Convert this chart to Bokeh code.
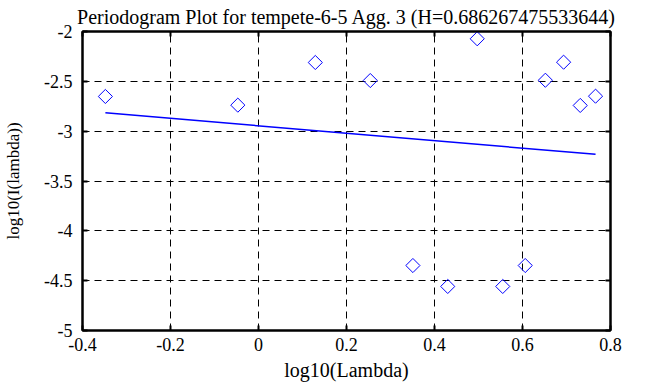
import numpy as np
from bokeh.plotting import figure
from bokeh.models import LinearAxis, FixedTicker, CustomJSTickFormatter, Range1d
from bokeh.embed import file_html
from bokeh.resources import INLINE

# data
log_lambda = [-0.3480, -0.0470, 0.1291, 0.2540, 0.3509, 0.4301, 0.4971,
              0.5551, 0.6062, 0.6520, 0.6934, 0.7312, 0.7660]
log_I = [-2.652, -2.739, -2.311, -2.492, -4.348, -4.558, -2.073,
         -4.558, -4.348, -2.489, -2.308, -2.742, -2.649]
x_ticks = [-0.4, -0.2, 0.0, 0.2, 0.4, 0.6, 0.8]
y_ticks = [-5.0, -4.5, -4.0, -3.5, -3.0, -2.5, -2.0]
title_text = "Periodogram Plot for tempete-6-5 Agg. 3 (H=0.686267475533644)"

FONT = "Liberation Serif"

p = figure(frame_width=528, frame_height=299, x_range=Range1d(-0.4, 0.8), y_range=Range1d(-5, -2),
           output_backend="svg", toolbar_location=None, title=title_text,
           min_border_left=82, min_border_right=46, min_border_top=31, min_border_bottom=55)

p.title.text_font = FONT
p.title.text_font_size = "20px"
p.title.text_font_style = "normal"
p.title.align = "center"
p.title.text_color = "black"
p.title.standoff = 7
p.title.offset = 0

p.outline_line_color = "black"
p.outline_line_width = 2

def style_axis(ax, labels=True):
    ax.axis_line_width = 2
    ax.axis_line_color = "black"
    ax.major_tick_in = 5
    ax.major_tick_out = 0
    ax.major_tick_line_width = 2
    ax.minor_tick_line_color = None
    ax.major_label_text_font = FONT
    ax.major_label_text_font_size = "18px"
    ax.major_label_text_color = "black"
    ax.axis_label_text_font = FONT
    ax.axis_label_text_font_style = "normal"
    ax.axis_label_text_color = "black"
    if not labels:
        ax.formatter = CustomJSTickFormatter(code="return ''")
        ax.major_label_standoff = 0
        ax.major_label_text_font_size = "0px"

p.xaxis.ticker = FixedTicker(ticks=x_ticks)
p.yaxis.ticker = FixedTicker(ticks=y_ticks)
p.xaxis.formatter = CustomJSTickFormatter(code="return tick == 0 ? '0' : tick.toFixed(1)")
p.yaxis.formatter = CustomJSTickFormatter(code="return Number.isInteger(tick) ? tick.toFixed(0) : tick.toFixed(1)")
style_axis(p.xaxis[0])
style_axis(p.yaxis[0])
p.xaxis.axis_label = "log10(Lambda)"
p.yaxis.axis_label = "log10(I(lambda))"
p.xaxis.axis_label_text_font_size = "20px"
p.yaxis.axis_label_text_font_size = "17px"
p.xaxis.major_label_standoff = 7
p.yaxis.major_label_standoff = 10
p.xaxis.axis_label_standoff = 5
p.yaxis.axis_label_standoff = 18

top = LinearAxis(ticker=FixedTicker(ticks=x_ticks))
style_axis(top, labels=False)
p.add_layout(top, "above")
right = LinearAxis(ticker=FixedTicker(ticks=y_ticks))
style_axis(right, labels=False)
p.add_layout(right, "right")

p.xgrid.ticker = FixedTicker(ticks=x_ticks)
p.ygrid.ticker = FixedTicker(ticks=y_ticks)
for g in (p.xgrid[0], p.ygrid[0]):
    g.grid_line_color = "black"
    g.grid_line_dash = "7 5"
    g.grid_line_width = 1
    g.grid_line_alpha = 1.0

# least-squares fit line over the data range
x = np.array(log_lambda)
y = np.array(log_I)
slope, intercept = np.polyfit(x, y, 1)
fit_x = [x.min(), x.max()]
fit_y = [intercept + slope * v for v in fit_x]
p.line(fit_x, fit_y, line_color="blue", line_width=1.5)

p.scatter(log_lambda, log_I, marker="square", angle=np.pi / 4, size=10,
          fill_color=None, line_color="blue", line_width=1)

html = file_html(p, INLINE)
open("out.html", "w").write(html)
